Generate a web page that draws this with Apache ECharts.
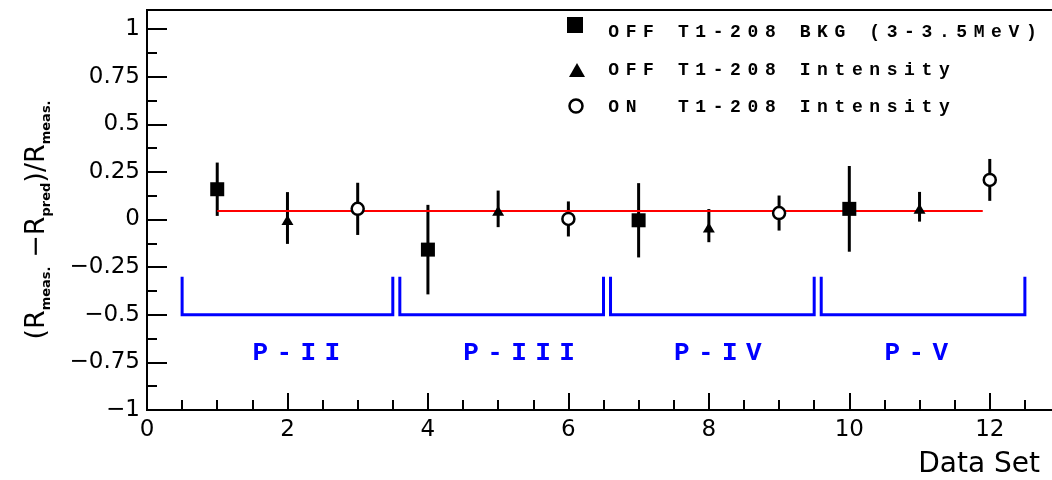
<!DOCTYPE html>
<html>
<head>
<meta charset="utf-8">
<script src="https://cdn.jsdelivr.net/npm/echarts@6/dist/echarts.min.js"></script>
<style>
  html, body { margin: 0; padding: 0; background: #fff; }
  #chart { width: 1052px; height: 480px; }
</style>
</head>
<body>
<div id="chart"></div>
<script>
// OFF Tl-208 background (3-3.5 MeV): data sets 1, 4, 7, 10
const bkgX = [1, 4, 7, 10];
const bkgY = [0.159, -0.158, -0.004, 0.056];
const bkgErr = [0.14, 0.235, 0.195, 0.225];

// OFF Tl-208 intensity: data sets 2, 5, 8, 11
const offX = [2, 5, 8, 11];
const offY = [0.008, 0.056, -0.032, 0.067];
const offErr = [0.136, 0.096, 0.087, 0.078];

// ON Tl-208 intensity: data sets 3, 6, 9, 12
const onX = [3, 6, 9, 12];
const onY = [0.056, 0.003, 0.034, 0.208];
const onErr = [0.137, 0.092, 0.092, 0.11];

// constant fitted over all data sets
const fitLevel = 0.045;
const fitFrom = 1;
const fitTo = 11.9;

// running periods, bracketed below the points
const periodNames = ['P-II', 'P-III', 'P-IV', 'P-V'];
const periodStart = [0.5, 3.6, 6.6, 9.6];
const periodEnd = [3.5, 6.5, 9.5, 12.5];
const periodLabelX = [1.5, 4.5, 7.5, 10.5];
const bracketTop = -0.3;
const bracketBottom = -0.5;
const periodLabelY = -0.705;

const legendNames = ['OFF T1-208 BKG (3-3.5MeV)', 'OFF T1-208 Intensity', 'ON  T1-208 Intensity'];

// fixed-pitch lettering: every character gets its own cell
function spaced(str, token) {
  return str.split('').map(function (ch) { return '{' + token + '|' + ch + '}'; }).join('');
}

const legendCell = { width: 17.4, align: 'center', fontFamily: 'Liberation Mono', fontWeight: 'bold', fontSize: 18, fill: '#000' };
const periodCell = { width: 24, align: 'center', fontFamily: 'Liberation Mono', fontWeight: 'bold', fontSize: 26, fill: '#0000ff' };

function pack(xs, ys, es) {
  return xs.map(function (x, i) { return [x, ys[i], es[i]]; });
}

function renderErrorBar(params, api) {
  const x = api.value(0), y = api.value(1), e = api.value(2);
  const hi = api.coord([x, y + e]);
  const lo = api.coord([x, y - e]);
  return {
    type: 'line',
    shape: { x1: hi[0], y1: hi[1], x2: lo[0], y2: lo[1] },
    style: { stroke: '#000', lineWidth: 3 }
  };
}

function renderPeriod(params, api) {
  const i = params.dataIndex;
  const a = api.coord([periodStart[i], bracketTop]);
  const b = api.coord([periodStart[i], bracketBottom]);
  const c = api.coord([periodEnd[i], bracketBottom]);
  const d = api.coord([periodEnd[i], bracketTop]);
  const t = api.coord([periodLabelX[i], periodLabelY]);
  return {
    type: 'group',
    children: [
      {
        type: 'polyline',
        shape: { points: [a, b, c, d] },
        style: { stroke: '#0000ff', lineWidth: 3, fill: null }
      },
      {
        type: 'text',
        x: t[0] - 4,
        y: t[1],
        style: {
          text: spaced(periodNames[i], 'p'),
          rich: { p: periodCell },
          align: 'left',
          verticalAlign: 'middle'
        }
      }
    ]
  };
}

const axisFont = { fontFamily: 'DejaVu Sans', fontSize: 23, color: '#000' };
const minus = function (v) { return String(v).replace('-', '\u2212'); };

const chart = echarts.init(document.getElementById('chart'), null, { renderer: 'canvas' });

chart.setOption({
  animation: false,
  backgroundColor: '#fff',
  grid: {
    left: 147, right: -8, top: 10, bottom: 70,
    containLabel: false,
    outerBoundsMode: 'none',
    show: true, borderColor: '#000', borderWidth: 2
  },
  xAxis: [
    {
      type: 'value', min: 0, max: 13, interval: 2, position: 'bottom',
      axisLine: { onZero: false, lineStyle: { color: '#000', width: 2 } },
      axisTick: { inside: true, length: 17, lineStyle: { color: '#000', width: 2 } },
      axisLabel: Object.assign({ margin: 9, showMaxLabel: false }, axisFont),
      splitLine: { show: false }
    },
    {
      type: 'value', min: 0, max: 13, interval: 0.5, position: 'bottom',
      axisLine: { show: false, onZero: false },
      axisTick: { inside: true, length: 10, lineStyle: { color: '#000', width: 2 } },
      axisLabel: { show: false },
      splitLine: { show: false }
    }
  ],
  yAxis: [
    {
      type: 'value', min: -1, max: 1.1, interval: 0.25, position: 'left',
      axisLine: { show: true, onZero: false, lineStyle: { color: '#000', width: 2 } },
      axisTick: { show: true, inside: true, length: 20, lineStyle: { color: '#000', width: 2 } },
      axisLabel: Object.assign({ margin: 7, showMaxLabel: false, formatter: minus }, axisFont),
      splitLine: { show: false },
      name: '(R{s|meas.} \u2212R{s|pred})/R{s|meas.}',
      nameLocation: 'middle',
      nameRotate: 90,
      nameGap: 94,
      nameTextStyle: {
        fontFamily: 'DejaVu Sans', fontSize: 27, color: '#000', lineHeight: 32,
        padding: [0, 20, 0, 0],
        rich: {
          s: { fontFamily: 'DejaVu Sans', fontSize: 13, fontWeight: 'bold', color: '#000', verticalAlign: 'bottom', lineHeight: 15 }
        }
      }
    },
    {
      type: 'value', min: -1, max: 1.1, interval: 0.125, position: 'left',
      axisLine: { show: false, onZero: false },
      axisTick: { show: true, inside: true, length: 10, lineStyle: { color: '#000', width: 2 } },
      axisLabel: { show: false },
      splitLine: { show: false }
    }
  ],
  graphic: [
    { type: 'rect', shape: { x: 567, y: 17, width: 16, height: 16 }, style: { fill: '#000' } },
    { type: 'polygon', shape: { points: [[569, 77], [585, 77], [577, 63]] }, style: { fill: '#000' } },
    { type: 'circle', shape: { cx: 576, cy: 106, r: 6.5 }, style: { fill: '#fff', stroke: '#000', lineWidth: 2.5 } },
    { type: 'text', x: 605, y: 32, style: { text: spaced(legendNames[0], 'c'), rich: { c: legendCell }, verticalAlign: 'middle' } },
    { type: 'text', x: 605, y: 70, style: { text: spaced(legendNames[1], 'c'), rich: { c: legendCell }, verticalAlign: 'middle' } },
    { type: 'text', x: 605, y: 107, style: { text: spaced(legendNames[2], 'c'), rich: { c: legendCell }, verticalAlign: 'middle' } },
    { type: 'text', right: 12, top: 451, style: { text: 'Data Set', fontFamily: 'DejaVu Sans', fontSize: 28, fill: '#000' } }
  ],
  series: [
    {
      name: 'periods', type: 'custom', renderItem: renderPeriod, z: 2,
      data: periodNames.map(function (n, i) { return [periodStart[i], bracketTop, periodEnd[i]]; }),
      encode: { x: 0, y: 1 }, silent: true
    },
    { name: 'bkg errors', type: 'custom', renderItem: renderErrorBar, z: 2, data: pack(bkgX, bkgY, bkgErr), encode: { x: 0, y: 1 } },
    { name: 'off errors', type: 'custom', renderItem: renderErrorBar, z: 2, data: pack(offX, offY, offErr), encode: { x: 0, y: 1 } },
    { name: 'on errors', type: 'custom', renderItem: renderErrorBar, z: 2, data: pack(onX, onY, onErr), encode: { x: 0, y: 1 } },
    {
      name: 'fit', type: 'line', z: 3, showSymbol: false, symbol: 'none',
      data: [[fitFrom, fitLevel], [fitTo, fitLevel]],
      lineStyle: { color: '#ff0000', width: 2 }
    },
    {
      name: legendNames[0], type: 'scatter', z: 4, symbol: 'rect', symbolSize: 14,
      data: bkgX.map(function (x, i) { return [x, bkgY[i]]; }),
      itemStyle: { color: '#000', opacity: 1 }
    },
    {
      name: legendNames[1], type: 'scatter', z: 4, symbol: 'triangle', symbolSize: [12, 10], symbolOffset: [0, 2],
      data: offX.map(function (x, i) { return [x, offY[i]]; }),
      itemStyle: { color: '#000', opacity: 1 }
    },
    {
      name: legendNames[2], type: 'scatter', z: 4, symbol: 'circle', symbolSize: 12,
      data: onX.map(function (x, i) { return [x, onY[i]]; }),
      itemStyle: { color: '#fff', borderColor: '#000', borderWidth: 2.5, opacity: 1 }
    }
  ]
});
</script>
</body>
</html>
